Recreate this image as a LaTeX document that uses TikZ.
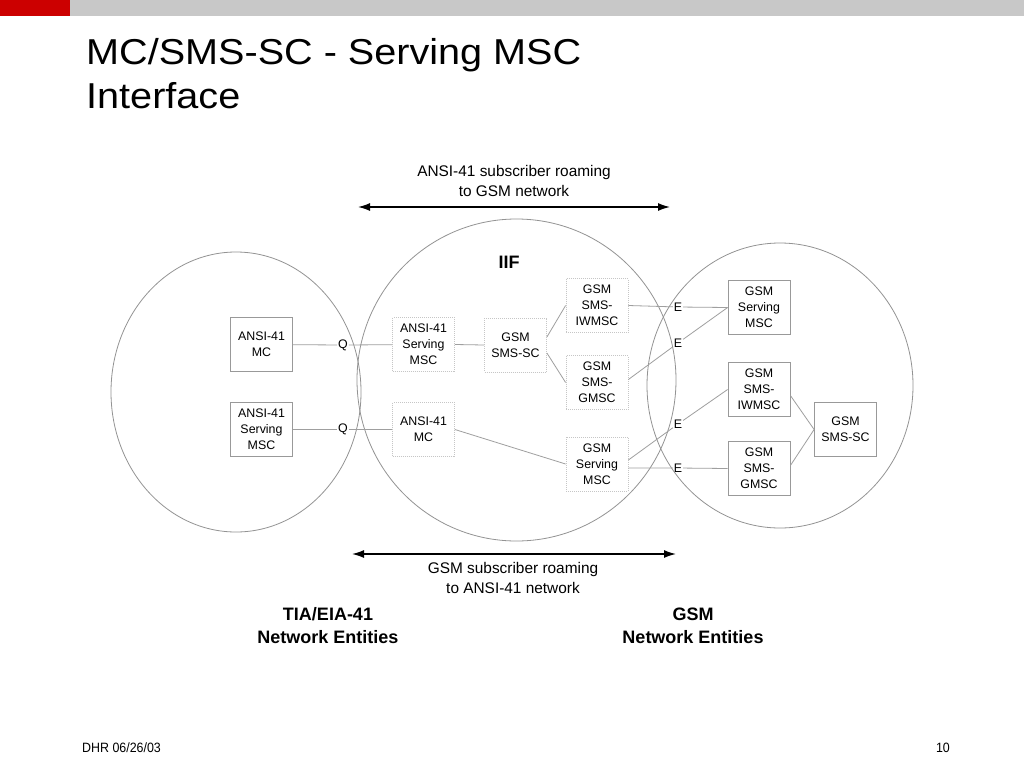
\documentclass[tikz,border=0pt]{standalone}
\usepackage{fontspec}
\setmainfont{Liberation Sans}
\newfontfamily\titlefont[FakeStretch=1.1]{Liberation Sans}
\newfontfamily\footfont[FakeStretch=0.92]{Liberation Sans}
\usetikzlibrary{arrows.meta,calc}
\definecolor{barred}{HTML}{CC0000}
\definecolor{bargray}{HTML}{C8C8C8}
\begin{document}
\begin{tikzpicture}[x=1pt,y=-1pt,
  box/.style={draw=gray!80, line width=0.8pt, minimum width=62pt, minimum height=54pt, inner sep=0pt, align=center, font=\fontsize{12.4}{16}\selectfont},
  dbox/.style={box, draw=gray!45, dash pattern=on 1pt off 1pt},
  lbl/.style={inner sep=0.8pt, font=\fontsize{12.4}{16}\selectfont},
  conn/.style={draw=gray!75, line width=0.8pt},
  ring/.style={draw=gray!85, line width=0.8pt},
  span/.style={line width=1.4pt, {Latex[length=12pt,width=8pt]}-{Latex[length=12pt,width=8pt]}},
  capt/.style={align=center, font=\fontsize{15.4}{20}\selectfont},
  bcapt/.style={align=center, font=\bfseries\fontsize{18}{23}\selectfont},
]
\useasboundingbox (0,0) rectangle (1024,768);
\fill[white] (0,0) rectangle (1024,768);
% top bar
\fill[barred] (0,0) rectangle (70,16);
\fill[bargray] (70,0) rectangle (1024,16);
% title
\node[anchor=base west, inner sep=0pt, font=\titlefont\fontsize{36}{44}\selectfont] (title1) at (86,64) {MC/SMS-SC - Serving MSC};
\node[anchor=base west, inner sep=0pt, font=\titlefont\fontsize{36}{44}\selectfont] (title2) at (86,108) {Interface};
% rings
\draw[ring] (236,392) ellipse [x radius=125pt, y radius=140pt];
\draw[ring] (516.5,380) ellipse [x radius=159.5pt, y radius=161pt];
\draw[ring] (780,385.5) ellipse [x radius=133pt, y radius=142.5pt];
% boxes
\node[box] (am) at (261.5,344.5) {ANSI-41\\MC};
\node[box] (as) at (261.5,429.5) {ANSI-41\\Serving\\MSC};
\node[dbox] (ias) at (423.5,344.5) {ANSI-41\\Serving\\MSC};
\node[dbox] (iam) at (423.5,429.5) {ANSI-41\\MC};
\node[dbox] (isc) at (515.5,345) {GSM\\SMS-SC};
\node[dbox] (iiw) at (597,305.5) {GSM\\SMS-\\IWMSC};
\node[dbox] (igm) at (597,382.5) {GSM\\SMS-\\GMSC};
\node[dbox] (ism) at (597,464) {GSM\\Serving\\MSC};
\node[box] (gsm) at (759,307.5) {GSM\\Serving\\MSC};
\node[box] (giw) at (759,389.5) {GSM\\SMS-\\IWMSC};
\node[box] (ggm) at (759,468.5) {GSM\\SMS-\\GMSC};
\node[box] (gsc) at (845.5,429.5) {GSM\\SMS-SC};
% interface labels
\node[lbl] (q1) at (343,345) {Q};
\node[lbl] (q2) at (343,429.5) {Q};
\node[lbl] (e1) at (678,307) {E};
\node[lbl] (e2) at (678,343) {E};
\node[lbl] (e3) at (678,424) {E};
\node[lbl] (e4) at (678,468) {E};
% connectors
\draw[conn] (am) -- (q1) -- (ias);
\draw[conn] (as) -- (q2) -- (iam);
\draw[conn] (ias.east) -- (isc.west);
\draw[conn] (iam.east) -- (ism.west);
\draw[conn] ([yshift=8pt]isc.east) -- (iiw.west);
\draw[conn] ([yshift=-8pt]isc.east) -- (igm.west);
\draw[conn] (iiw.east) -- (e1) -- (gsm.west);
\draw[conn] ([yshift=3pt]igm.east) -- (e2) -- (gsm.west);
\draw[conn] ([yshift=4pt]ism.east) -- (e3) -- (giw.west);
\draw[conn] ([yshift=-4pt]ism.east) -- (e4) -- (ggm.west);
\draw[conn] ([yshift=-6pt]giw.east) -- (gsc.west);
\draw[conn] ([yshift=3pt]ggm.east) -- (gsc.west);
% span arrows
\coordinate (a1) at (358,207);
\coordinate (a2) at (670,207);
\coordinate (b1) at (352,554);
\coordinate (b2) at (676,554);
\draw[span] (a1) -- (a2);
\draw[span] (b1) -- (b2);
\node[capt] (topcap) at (514,181) {ANSI-41 subscriber roaming\\to GSM network};
\node[capt] (botcap) at (513,577.5) {GSM subscriber roaming\\to ANSI-41 network};
\node[font=\bfseries\fontsize{18}{23}\selectfont] (iif) at (509,262) {IIF};
\node[bcapt] (tia) at (328,625.5) {TIA/EIA-41\\Network Entities};
\node[bcapt] (gsmnet) at (693,625.5) {GSM\\Network Entities};
% footer
\node[anchor=west, inner sep=0pt, font=\footfont\fontsize{13.5}{15}\selectfont] (foot) at (82,748) {DHR 06/26/03};
\node[anchor=east, inner sep=0pt, font=\footfont\fontsize{13.5}{15}\selectfont] (page) at (950,748) {10};
\end{tikzpicture}
\end{document}
